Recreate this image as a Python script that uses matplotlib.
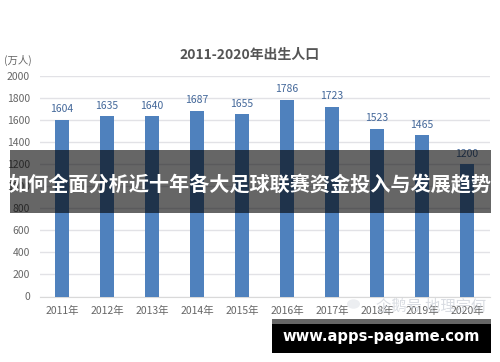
import matplotlib
matplotlib.use("Agg")
import matplotlib.pyplot as plt
from matplotlib.patches import Rectangle, Circle

plt.rcParams['font.family'] = ['Noto Sans CJK SC', 'DejaVu Sans']

years = ["2011年","2012年","2013年","2014年","2015年","2016年","2017年","2018年","2019年","2020年"]
births = [1604,1635,1640,1687,1655,1786,1723,1523,1465,1200]
yticks = [0,200,400,600,800,1000,1200,1400,1600,1800,2000]
title = "2011-2020年出生人口"
unit = "(万人)"
banner = "如何全面分析近十年各大足球联赛资金投入与发展趋势"
site = "www.apps-pagame.com"
watermark = "企鹅号 地理宗何"

W, H = 500, 362
fig = plt.figure(figsize=(W/100, H/100), dpi=100, facecolor='white')
ax = fig.add_axes([39.5/W, 1-296.5/H, 450/W, 220.5/H])
x = list(range(len(years)))
ax.bar(x, births, width=0.32, color='#4f81bd', zorder=3)
for xi, v in zip(x, births):
    ax.text(xi, v+47, str(v), ha='center', va='bottom', fontsize=7.5, color='#44689a', zorder=4)
ax.set_xlim(-0.5, 9.5)
ax.set_ylim(0, 2000)
ax.set_yticks(yticks)
ax.set_xticks(x)
ax.set_xticklabels(years)
ax.tick_params(axis='both', length=0, labelsize=7.5, labelcolor='#666666')
ax.tick_params(axis='x', pad=6.5)
ax.tick_params(axis='y', pad=7)
ax.grid(axis='y', color='#e2e2e6', lw=1, zorder=0)
ax.set_axisbelow(True)
for s in ['top','right','left']:
    ax.spines[s].set_visible(False)
ax.spines['bottom'].set_color('#d9d9d9')

def px(x0, y0):
    return x0/W, 1-y0/H

fig.text(*px(17.5, 60), unit, fontsize=7.5, color='#666666', ha='center', va='center')
fig.text(*px(250, 55), title, fontsize=10, fontweight='bold', color='#555555', ha='center', va='center')
fig.text(*px(431, 306), watermark, fontsize=11, color='#c9ced6', alpha=0.7, ha='center', va='center', zorder=1)
fig.add_artist(Circle((353.5/W, 1-304/H), 6.5/W, transform=fig.transFigure, facecolor='#eceef1', lw=0))

def rect(x0, y0, x1, y1, **kw):
    fig.add_artist(Rectangle((x0/W, 1-y1/H), (x1-x0)/W, (y1-y0)/H, transform=fig.transFigure, lw=0, **kw))

rect(10, 150, 491, 213, facecolor='black', alpha=0.6, zorder=10)
fig.text(*px(250, 184.5), banner, fontsize=14.5, fontweight='bold', color='white', ha='center', va='center', zorder=11)
rect(272, 319, 491, 324, facecolor='#666666', zorder=10)
rect(272, 324, 491, 353, facecolor='black', zorder=10)
fig.text(*px(381, 337), site, fontsize=10.6, fontweight='bold', family='DejaVu Sans', color='white', ha='center', va='center', zorder=11)
fig.savefig('out.png', dpi=100)
